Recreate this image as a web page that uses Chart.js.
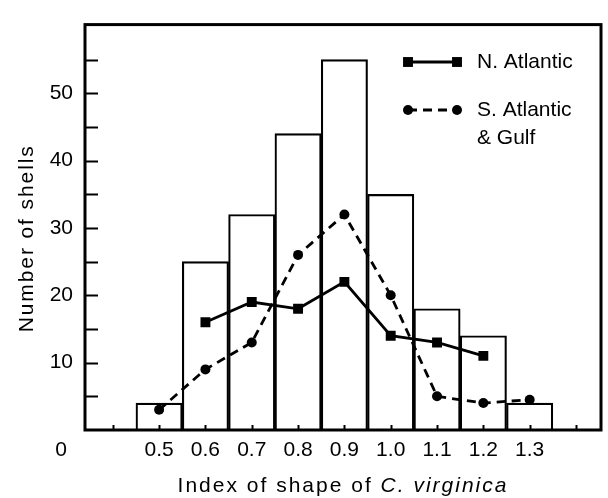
<!DOCTYPE html>
<html>
<head>
<meta charset="utf-8">
<script src="https://cdn.jsdelivr.net/npm/chart.js@4/dist/chart.umd.min.js"></script>
<style>
  html, body { margin: 0; padding: 0; background: #fff; }
  #wrap { width: 608px; height: 498px; }
</style>
</head>
<body>
<div id="wrap"><canvas id="c" width="608" height="498"></canvas></div>
<script>
// Shape index classes and total shell counts (histogram)
const shapeIndex = [0.5, 0.6, 0.7, 0.8, 0.9, 1.0, 1.1, 1.2, 1.3];
const shellCounts = [4, 25, 32, 44, 55, 35, 18, 14, 4];

// N. Atlantic series
const nAtlanticIndex = [0.6, 0.7, 0.8, 0.9, 1.0, 1.1, 1.2];
const nAtlanticCounts = [16, 19, 18, 22, 14, 13, 11];

// S. Atlantic & Gulf series
const sAtlanticIndex = [0.5, 0.6, 0.7, 0.8, 0.9, 1.0, 1.1, 1.2, 1.3];
const sAtlanticCounts = [3, 9, 13, 26, 32, 20, 5, 4, 4.5];

// Axis ticks
const xTickValues = [0.4, 0.5, 0.6, 0.7, 0.8, 0.9, 1.0, 1.1, 1.2, 1.3, 1.4];
const xTickLabels = ['', '0.5', '0.6', '0.7', '0.8', '0.9', '1.0', '1.1', '1.2', '1.3', ''];
const yTickValues = [5, 10, 15, 20, 25, 30, 35, 40, 45, 50, 55];
const yTickLabels = ['', '10', '', '20', '', '30', '', '40', '', '50', ''];

const FONT = '"Liberation Sans", Arial, Helvetica, sans-serif';
const FS = 21;

Chart.defaults.font.family = FONT;
Chart.defaults.font.size = FS;
Chart.defaults.color = '#000';

const pairs = (xs, ys) => xs.map((x, i) => ({ x: x, y: ys[i] }));

// Frame, inward tick marks, corner zero, axis titles and legend
const decorations = {
  id: 'decorations',
  afterDraw(chart) {
    const { ctx, chartArea: a, scales: { x, y } } = chart;
    ctx.save();
    ctx.strokeStyle = '#000';
    ctx.fillStyle = '#000';

    // y ticks (inward)
    ctx.lineWidth = 2;
    yTickValues.forEach(v => {
      const py = Math.round(y.getPixelForValue(v)) + 0.5;
      ctx.beginPath();
      ctx.moveTo(a.left, py);
      ctx.lineTo(a.left + 13, py);
      ctx.stroke();
    });
    // x ticks (inward)
    xTickValues.forEach(v => {
      const px = Math.round(x.getPixelForValue(v)) + 0.5;
      ctx.beginPath();
      ctx.moveTo(px, a.bottom);
      ctx.lineTo(px, a.bottom - 5);
      ctx.stroke();
    });

    // plot frame
    ctx.lineWidth = 3;
    ctx.strokeRect(a.left, a.top, a.right - a.left, a.bottom - a.top);

    // origin label
    ctx.font = FS + 'px ' + FONT;
    ctx.textAlign = 'center';
    ctx.textBaseline = 'middle';
    ctx.fillText('0', 61, 450);

    // axis titles (set with open tracking)
    ctx.letterSpacing = '2px';
    const t1 = 'Index of shape of ';
    const t2 = 'C. virginica';
    ctx.font = FS + 'px ' + FONT;
    const w1 = ctx.measureText(t1).width;
    ctx.font = 'italic ' + FS + 'px ' + FONT;
    const w2 = ctx.measureText(t2).width;
    const cx = (a.left + a.right) / 2;
    const sx = cx - (w1 + w2) / 2;
    ctx.textAlign = 'left';
    ctx.font = FS + 'px ' + FONT;
    ctx.fillText(t1, sx, 486);
    ctx.font = 'italic ' + FS + 'px ' + FONT;
    ctx.fillText(t2, sx + w1, 486);

    ctx.letterSpacing = '1.9px';
    ctx.font = FS + 'px ' + FONT;
    ctx.save();
    ctx.translate(27, (a.top + a.bottom) / 2 + 11);
    ctx.rotate(-Math.PI / 2);
    ctx.textAlign = 'center';
    ctx.fillText('Number of shells', 0, 0);
    ctx.restore();
    ctx.letterSpacing = '0px';

    // legend
    const rows = [
      { ds: chart.data.datasets[1], y: 62 },
      { ds: chart.data.datasets[2], y: 110 }
    ];
    const lx0 = 408, lx1 = 457, tx = 477;
    rows.forEach(r => {
      const ds = r.ds;
      ctx.lineWidth = ds.borderWidth;
      ctx.setLineDash(ds.borderDash || []);
      ctx.beginPath();
      ctx.moveTo(lx0, r.y);
      ctx.lineTo(lx1, r.y);
      ctx.stroke();
      ctx.setLineDash([]);
      [lx0, lx1].forEach(px => {
        Chart.helpers.drawPoint(ctx, {
          pointStyle: ds.pointStyle,
          radius: ds.pointRadius,
          rotation: 0,
          borderWidth: 0
        }, px, r.y);
      });
      ctx.font = FS + 'px ' + FONT;
      ctx.textAlign = 'left';
      ctx.textBaseline = 'middle';
      ds.label.split('\n').forEach((line, i) => {
        ctx.fillText(line, tx, r.y + i * 28);
      });
    });
    ctx.restore();
  }
};

new Chart(document.getElementById('c'), {
  type: 'bar',
  data: {
    datasets: [
      {
        type: 'bar',
        label: 'All shells',
        data: pairs(shapeIndex, shellCounts),
        backgroundColor: 'rgba(0,0,0,0)',
        borderColor: '#000',
        borderWidth: 1.5,
        barPercentage: 1,
        categoryPercentage: 1,
        order: 3
      },
      {
        type: 'line',
        label: 'N. Atlantic',
        data: pairs(nAtlanticIndex, nAtlanticCounts),
        borderColor: '#000',
        backgroundColor: '#000',
        borderWidth: 2.8,
        pointStyle: 'rect',
        pointRadius: 7,
        pointBackgroundColor: '#000',
        pointBorderWidth: 0,
        tension: 0,
        order: 1
      },
      {
        type: 'line',
        label: 'S. Atlantic\n& Gulf',
        data: pairs(sAtlanticIndex, sAtlanticCounts),
        borderColor: '#000',
        backgroundColor: '#000',
        borderWidth: 2.8,
        borderDash: [9, 6],
        pointStyle: 'circle',
        pointRadius: 5,
        pointBackgroundColor: '#000',
        pointBorderWidth: 0,
        tension: 0,
        order: 2
      }
    ]
  },
  options: {
    responsive: false,
    animation: false,
    devicePixelRatio: 1,
    events: [],
    layout: { padding: { top: 10, right: 2, left: 0, bottom: 0 } },
    plugins: {
      legend: { display: false },
      tooltip: { enabled: false }
    },
    scales: {
      x: {
        type: 'linear',
        min: 0.34,
        max: 1.454,
        offset: false,
        grid: { display: false, drawTicks: false },
        border: { display: false },
        afterBuildTicks: s => { s.ticks = xTickValues.map(v => ({ value: v })); },
        afterFit: s => { s.height = 68; },
        ticks: {
          autoSkip: false,
          maxRotation: 0,
          padding: 8,
          callback: (v, i) => xTickLabels[i]
        }
      },
      y: {
        type: 'linear',
        min: 0,
        max: 60.2,
        grid: { display: false, drawTicks: false },
        border: { display: false },
        afterBuildTicks: s => { s.ticks = yTickValues.map(v => ({ value: v })); },
        afterFit: s => { s.width = 85; },
        ticks: {
          autoSkip: false,
          padding: 12,
          callback: (v, i) => yTickLabels[i]
        }
      }
    }
  },
  plugins: [decorations]
});
</script>
</body>
</html>
